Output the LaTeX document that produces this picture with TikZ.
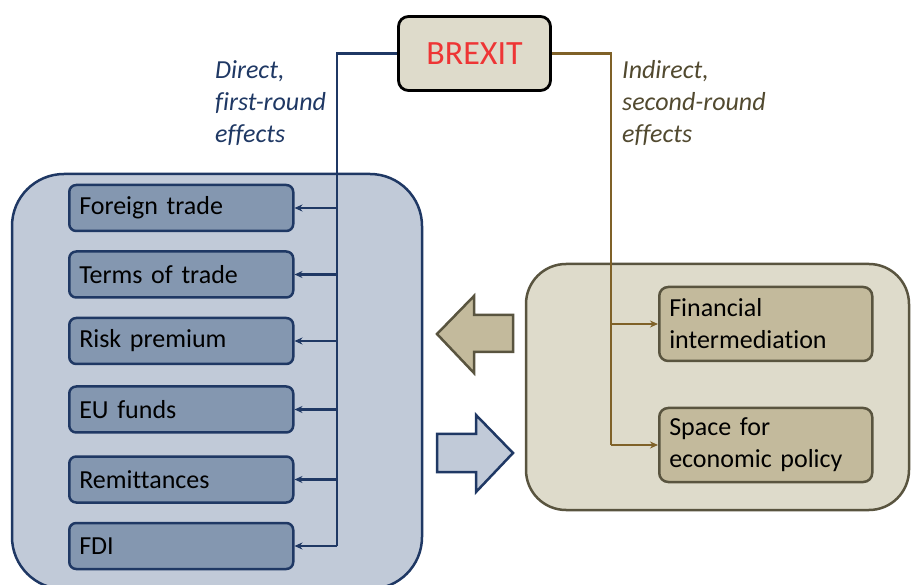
\documentclass[tikz,border=0pt]{standalone}
\usepackage{fontspec}
\setmainfont[Ligatures=NoCommon]{Carlito}
\usetikzlibrary{arrows.meta}
\definecolor{navy}{HTML}{1F3864}
\definecolor{panelblue}{HTML}{C1CAD8}
\definecolor{boxblue}{HTML}{8497B0}
\definecolor{panelbeige}{HTML}{DEDBCB}
\definecolor{boxbeige}{HTML}{C3BA9C}
\definecolor{olive}{HTML}{59543F}
\definecolor{brownline}{HTML}{7F6128}
\definecolor{indtext}{HTML}{524A30}
\definecolor{brexred}{HTML}{EE3535}
\tikzset{
  leftbox/.style={draw=navy, fill=boxblue, line width=2.5pt, rounded corners=7pt,
    minimum width=224pt, minimum height=46pt, text width=204pt, inner xsep=10pt,
    align=left, font=\fontsize{26}{30}\selectfont, anchor=west},
  rightbox/.style={draw=olive, fill=boxbeige, line width=2.5pt, rounded corners=9pt,
    minimum width=213pt, minimum height=74pt, text width=193pt, inner xsep=10pt,
    align=left, font=\fontsize{26}{32}\selectfont, anchor=west},
  navyline/.style={draw=navy, line width=2.2pt},
  brownln/.style={draw=brownline, line width=2.2pt},
  tip/.style={-{Stealth[length=8pt,width=7pt]}},
  lbl/.style={font=\itshape\fontsize{26}{32}\selectfont, align=left, anchor=north west, inner sep=0pt},
}
\begin{document}
\begin{tikzpicture}[x=1pt,y=-1pt]
\useasboundingbox (0,0) rectangle (911,585);
\clip (0,0) rectangle (911,585);
\fill[white] (0,0) rectangle (911,585);
% panels
\draw[navy, fill=panelblue, line width=2.5pt, rounded corners=52pt] (12,174) rectangle (422,589);
\draw[olive, fill=panelbeige, line width=2.5pt, rounded corners=40pt] (526,264) rectangle (909,510);
% big arrows
\draw[olive, fill=boxbeige, line width=2.5pt, line join=miter]
  (437,334) -- (474,296) -- (474,315) -- (513,315) -- (513,352) -- (474,352) -- (474,373) -- cycle;
\draw[navy, fill=panelblue, line width=2.5pt, line join=miter]
  (513,453) -- (476,415) -- (476,434) -- (437,434) -- (437,472) -- (476,472) -- (476,492) -- cycle;
% brexit
\node[draw=black, fill=panelbeige, line width=2.8pt, rounded corners=10pt,
  minimum width=152pt, minimum height=74pt, text=brexred,
  font=\fontsize{34}{40}\selectfont] (brexit) at (474.5,53.5) {BREXIT};
% left boxes
\node[leftbox] (ft) at (68,208) {Foreign trade};
\node[leftbox] (tt) at (68,274.5) {Terms of trade};
\node[leftbox] (rp) at (68,341) {Risk premium};
\node[leftbox] (eu) at (68,409.5) {EU funds};
\node[leftbox] (rm) at (68,479.5) {Remittances};
\node[leftbox] (fdi) at (68,546) {FDI};
% right boxes
\node[rightbox] (fin) at (658,324) {Financial\\intermediation};
\node[rightbox] (sp) at (658,445) {Space for\\economic policy};
% labels
\node[lbl, text=navy] (dlab) at (215,60) {Direct,\\first-round\\effects};
\node[lbl, text=indtext] (ilab) at (622,60) {Indirect,\\second-round\\effects};
% connectors
\coordinate (bl) at (337,546);
\coordinate (br) at (611,445);
\draw[navyline] (brexit.west) -| (bl);
\foreach \n in {ft,tt,rp,eu,rm,fdi} {
  \draw[navyline, tip] (\n.east -| bl) -- (\n.east);
}
\draw[brownln] (brexit.east) -| (br);
\foreach \n in {fin,sp} {
  \draw[brownln, tip] (\n.west -| br) -- (\n.west);
}
\end{tikzpicture}
\end{document}
